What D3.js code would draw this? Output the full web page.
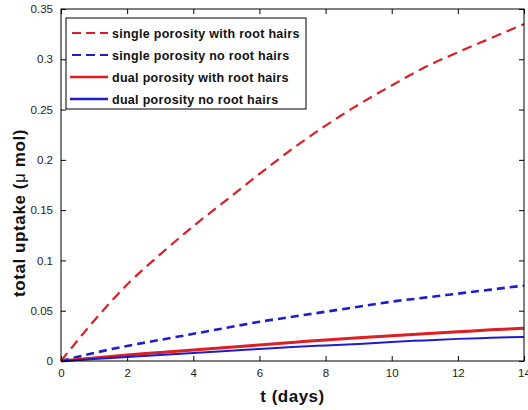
<!DOCTYPE html>
<html>
<head>
<meta charset="utf-8">
<script src="https://cdn.jsdelivr.net/npm/d3@7"></script>
<style>
  html, body { margin: 0; padding: 0; background: #fff; }
  svg { display: block; font-family: "Liberation Sans", Arial, sans-serif; }
</style>
</head>
<body>
<svg id="chart" width="528" height="410"></svg>
<script>
// Time samples (days)
const days = [0, 1, 2, 3, 4, 5, 6, 7, 8, 9, 10, 11, 12, 13, 14];

// Total uptake (µmol) per model
const singleWithHairs = [0, 0.040, 0.076, 0.106, 0.134, 0.160, 0.186, 0.211, 0.234, 0.255, 0.274, 0.292, 0.307, 0.321, 0.335];
const singleNoHairs   = [0, 0.008, 0.015, 0.021, 0.027, 0.033, 0.039, 0.044, 0.049, 0.054, 0.059, 0.063, 0.067, 0.071, 0.075];
const dualWithHairs   = [0, 0.003, 0.006, 0.0085, 0.011, 0.0135, 0.016, 0.0185, 0.021, 0.023, 0.025, 0.027, 0.029, 0.031, 0.0325];
const dualNoHairs     = [0, 0.002, 0.004, 0.006, 0.008, 0.010, 0.012, 0.014, 0.0155, 0.017, 0.019, 0.0205, 0.022, 0.023, 0.024];

const seriesNames = [
  "single porosity with root hairs",
  "single porosity no root hairs",
  "dual porosity with root hairs",
  "dual porosity no root hairs"
];

const xTicks = [0, 2, 4, 6, 8, 10, 12, 14];
const yTicks = [0, 0.05, 0.1, 0.15, 0.2, 0.25, 0.3, 0.35];
const yTickLabels = ["0", "0.05", "0.1", "0.15", "0.2", "0.25", "0.3", "0.35"];

const RED = "#dc1f22", BLUE = "#1d1dcc";
const styles = [
  { color: RED,  width: 2.2, dash: "10,6" },
  { color: BLUE, width: 2.6, dash: "8,5" },
  { color: RED,  width: 3,   dash: null },
  { color: BLUE, width: 2,   dash: null }
];
const allValues = [singleWithHairs, singleNoHairs, dualWithHairs, dualNoHairs];

const svg = d3.select("#chart");
const m = { left: 61, right: 524, top: 9, bottom: 361 };

const x = d3.scaleLinear().domain([0, 14]).range([m.left, m.right]);
const y = d3.scaleLinear().domain([0, 0.35]).range([m.bottom, m.top]);

svg.append("rect").attr("width", 528).attr("height", 410).attr("fill", "#fff");

// Curves
const line = d3.line()
  .x((d, i) => x(days[i]))
  .y(d => y(d))
  .curve(d3.curveMonotoneX);

const plot = svg.append("g");
allValues.forEach((vals, k) => {
  const s = styles[k];
  plot.append("path")
    .datum(vals)
    .attr("d", line)
    .attr("fill", "none")
    .attr("stroke", s.color)
    .attr("stroke-width", s.width)
    .attr("stroke-dasharray", s.dash);
});

// Axes with inward ticks on all four sides
const tickLen = 5;
const axisStyle = g => {
  g.select(".domain").remove();
  g.selectAll(".tick line").attr("stroke", "#000");
  g.selectAll(".tick text").attr("fill", "#222").style("font-size", "11.5px")
    .style("font-family", "Liberation Sans, Arial, sans-serif");
};

svg.append("g").attr("transform", `translate(0,${m.bottom})`)
  .call(d3.axisBottom(x).tickValues(xTicks).tickSizeInner(-tickLen).tickSizeOuter(0).tickPadding(8))
  .call(axisStyle);
svg.append("g").attr("transform", `translate(0,${m.top})`)
  .call(d3.axisTop(x).tickValues(xTicks).tickSizeInner(-tickLen).tickSizeOuter(0).tickFormat(""))
  .call(axisStyle);
svg.append("g").attr("transform", `translate(${m.left},0)`)
  .call(d3.axisLeft(y).tickValues(yTicks).tickSizeInner(-tickLen).tickSizeOuter(0).tickPadding(8)
    .tickFormat((d, i) => yTickLabels[i]))
  .call(axisStyle);
svg.append("g").attr("transform", `translate(${m.right},0)`)
  .call(d3.axisRight(y).tickValues(yTicks).tickSizeInner(-tickLen).tickSizeOuter(0).tickFormat(""))
  .call(axisStyle);

// Frame
svg.append("rect")
  .attr("x", m.left).attr("y", m.top)
  .attr("width", m.right - m.left).attr("height", m.bottom - m.top)
  .attr("fill", "none").attr("stroke", "#000").attr("stroke-width", 1);

// Axis titles
svg.append("text")
  .attr("x", (m.left + m.right) / 2).attr("y", 402)
  .attr("text-anchor", "middle")
  .style("font-size", "17px").style("font-weight", "bold").style("letter-spacing", "0.5px")
  .attr("fill", "#111")
  .text("t (days)");

const yl = svg.append("text")
  .attr("transform", `translate(25,${(m.top + m.bottom) / 2 + 28}) rotate(-90)`)
  .attr("text-anchor", "middle")
  .style("font-size", "17px").style("font-weight", "bold").style("letter-spacing", "0.6px")
  .attr("fill", "#111");
yl.append("tspan").text("total uptake (");
yl.append("tspan").style("font-weight", "normal").text("\u03bc");
yl.append("tspan").text(" mol)");

// Legend
const lg = svg.append("g");
lg.append("rect")
  .attr("x", 66).attr("y", 18).attr("width", 240).attr("height", 91)
  .attr("fill", "#fff").attr("stroke", "#000").attr("stroke-width", 1);

const rowY = [33, 55, 77, 99];
seriesNames.forEach((name, k) => {
  const s = styles[k];
  lg.append("line")
    .attr("x1", s.dash ? 72 : 70).attr("x2", 108)
    .attr("y1", rowY[k]).attr("y2", rowY[k])
    .attr("stroke", s.color).attr("stroke-width", s.dash ? 2.2 : 2.4)
    .attr("stroke-dasharray", s.dash ? "9,5" : null);
  lg.append("text")
    .attr("x", 112).attr("y", rowY[k] + 4.5)
    .style("font-size", "12.5px").style("font-weight", "bold").style("letter-spacing", "0.3px")
    .attr("fill", "#111")
    .text(name);
});
</script>
</body>
</html>
